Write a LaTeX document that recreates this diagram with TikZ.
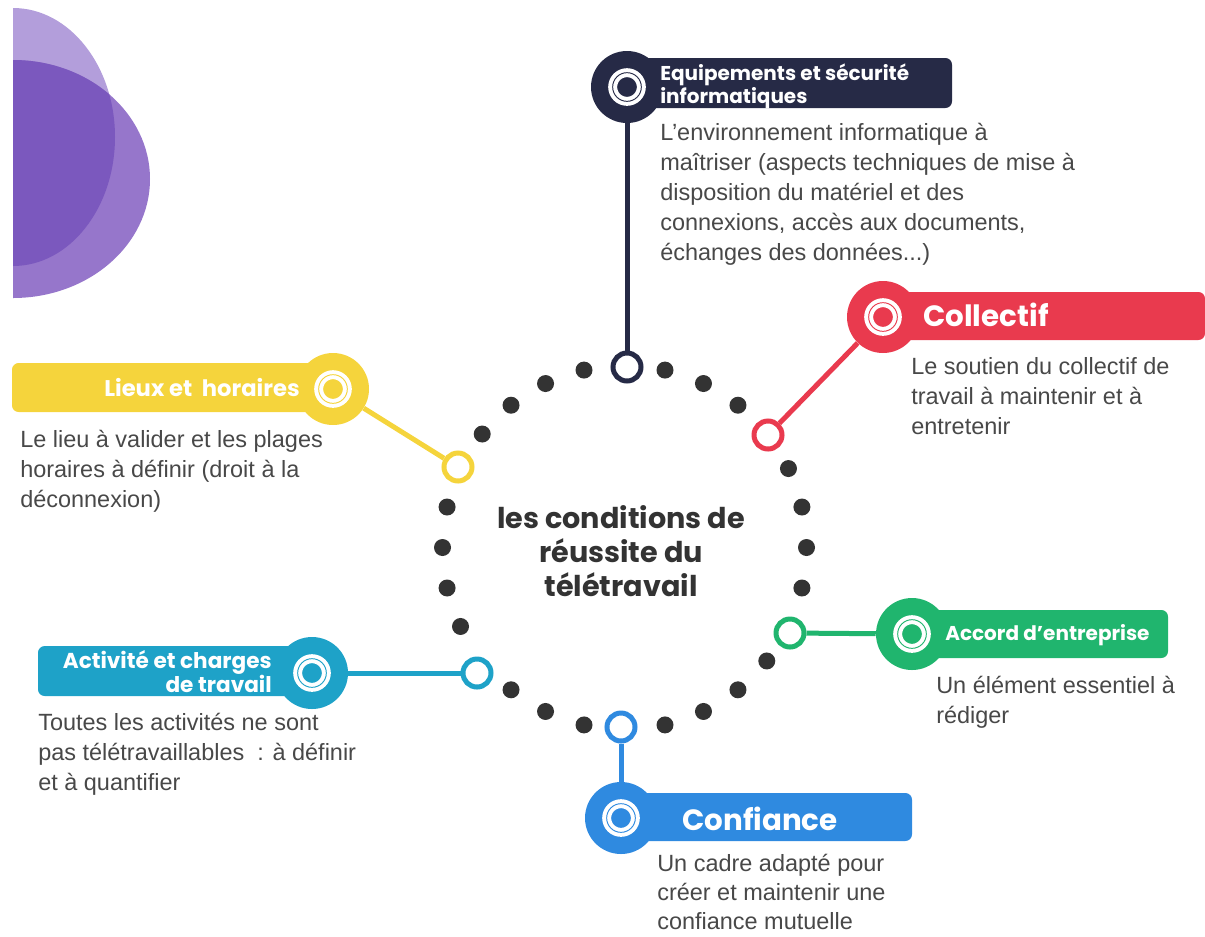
\documentclass[tikz,border=0pt]{standalone}
\usepackage{fontspec}
\newfontfamily\poppins{Poppins}
\newfontfamily\descfont{Liberation Sans}
\definecolor{navyc}{RGB}{38,42,70}
\definecolor{redc}{RGB}{233,58,78}
\definecolor{yellowc}{RGB}{245,212,60}
\definecolor{greenc}{RGB}{32,181,110}
\definecolor{cyanc}{RGB}{30,162,200}
\definecolor{bluec}{RGB}{47,138,224}
\definecolor{dotgray}{RGB}{51,51,51}
\definecolor{descgray}{RGB}{72,72,72}
\definecolor{lilac}{RGB}{179,158,219}
\definecolor{midviolet}{RGB}{150,118,203}
\definecolor{deepviolet}{RGB}{123,88,190}
\tikzset{cdot/.style={circle,fill=dotgray,minimum size=12.75pt,inner sep=0pt},
 cring/.style={circle,draw=#1,fill=white,line width=3.75pt,minimum size=21pt,inner sep=0pt},
 hub/.style={circle,fill=#1,minimum size=54pt,inner sep=0pt},
 hubring/.style={circle,draw=white,double=#1,double distance=0.7pt,line width=3pt,minimum size=21.5pt,inner sep=0pt},
 cline/.style={draw=#1,line width=3.75pt},
 ttl/.style={text=white,inner sep=0pt,execute at begin node={\rule{0pt}{0.85em}}},
 desc/.style={text=descgray,font={\descfont\fontsize{17.6}{22.5}\selectfont},align=left,anchor=north west,inner sep=0pt,execute at begin node={\rule{0pt}{0.8em}}}}
\newcommand{\bigttl}{\poppins\bfseries\fontsize{22}{26}\selectfont}
\newcommand{\smallttl}{\poppins\bfseries\fontsize{15}{17.25}\selectfont}

\begin{document}
\begin{tikzpicture}[x=0.75pt,y=-0.75pt]
\useasboundingbox (0,0) rectangle (1205,936);
\begin{scope}
\clip (13,0) rectangle (300,936);
\fill[lilac] (13,137) ellipse [x radius=102,y radius=129];
\fill[midviolet] (13,179) ellipse [x radius=137,y radius=119];
\clip (13,137) ellipse [x radius=102,y radius=129];
\fill[deepviolet] (13,179) ellipse [x radius=137,y radius=119];
\end{scope}

\foreach \i in {1,2,3,5,6,7,8,10,11,12,13,15,16,17,19,20,21,22,24,25,26,27}
 \node[cdot] (d\i) at ({624.5+182*cos(90-\i*360/28)},{547.5-182*sin(90-\i*360/28)}) {};
\node[cring=navyc] (eqK) at (627,367) {};
\node[cring=redc] (coK) at (768,435) {};
\node[cring=greenc] (acK) at (790,633) {};
\node[cring=bluec] (cfK) at (621,727) {};
\node[cring=cyanc] (atK) at (477,673) {};
\node[cring=yellowc] (liK) at (458,467) {};
\node[text=dotgray,font={\poppins\bfseries\fontsize{21.5}{25.5}\selectfont},align=center] (ctr) at (621,551) {les conditions de\\réussite du\\télétravail};

\fill[navyc,rounded corners=5pt] (627,58) rectangle (952,108);
\node[hub=navyc] (eqC) at (627,87) {};
\node[hubring=navyc] (eqR) at (eqC) {};
\node[ttl,font=\smallttl,align=left,anchor=north west] (eqT) at (660,64) {Equipements et sécurité\\informatiques};
\draw[cline=navyc] (eqC) -- (eqK);
\node[desc] (eqD) at (660,123) {L’environnement informatique à\\maîtriser (aspects techniques de mise à\\disposition du matériel et des\\connexions, accès aux documents,\\échanges des données...)};

\fill[redc,rounded corners=5pt] (883,292) rectangle (1205,340);
\node[hub=redc] (coC) at (883,317) {};
\node[hubring=redc] (coR) at (coC) {};
\node[ttl,font=\bigttl,anchor=north west] (coT) at (923,301) {Collectif};
\draw[cline=redc] (coC) -- (coK);
\node[desc] (coD) at (911,357) {Le soutien du collectif de\\travail à maintenir et à\\entretenir};

\fill[yellowc,rounded corners=5pt] (12,363) rectangle (333,412);
\node[hub=yellowc] (liC) at (333,389) {};
\node[hubring=yellowc] (liR) at (liC) {};
\node[ttl,font={\poppins\bfseries\fontsize{17}{19}\selectfont},anchor=north east] (liT) at (300,377) {Lieux et\ \ horaires};
\draw[cline=yellowc] (liC) -- (liK);
\node[desc] (liD) at (20,430) {Le lieu à valider et les plages\\horaires à définir (droit à la\\déconnexion)};

\fill[greenc,rounded corners=5pt] (912,610) rectangle (1168,658);
\node[hub=greenc] (acC) at (912,634) {};
\node[hubring=greenc] (acR) at (acC) {};
\node[ttl,font=\smallttl,anchor=north west] (acT) at (945,623) {Accord d’entreprise};
\draw[cline=greenc] (acC) -- (acK);
\node[desc] (acD) at (936,676) {Un élément essentiel à\\rédiger};

\fill[cyanc,rounded corners=5pt] (38,646) rectangle (312,696);
\node[hub=cyanc] (atC) at (312,673) {};
\node[hubring=cyanc] (atR) at (atC) {};
\node[ttl,font={\poppins\bfseries\fontsize{16.2}{16.5}\selectfont},align=right,anchor=north east] (atT) at (272,650) {Activité et charges\\de travail};
\draw[cline=cyanc] (atC) -- (atK);
\node[desc] (atD) at (38,713) {Toutes les activités ne sont\\pas télétravaillables\ \ : à définir\\et à quantifier};

\fill[bluec,rounded corners=5pt] (621,793) rectangle (912,841);
\node[hub=bluec] (cfC) at (621,818) {};
\node[hubring=bluec] (cfR) at (cfC) {};
\node[ttl,font=\bigttl,anchor=north west] (cfT) at (682,805) {Confiance};
\draw[cline=bluec] (cfC) -- (cfK);
\node[desc,font={\descfont\fontsize{17.6}{21.8}\selectfont}] (cfD) at (657,854) {Un cadre adapté pour\\créer et maintenir une\\confiance mutuelle};
\end{tikzpicture}
\end{document}
